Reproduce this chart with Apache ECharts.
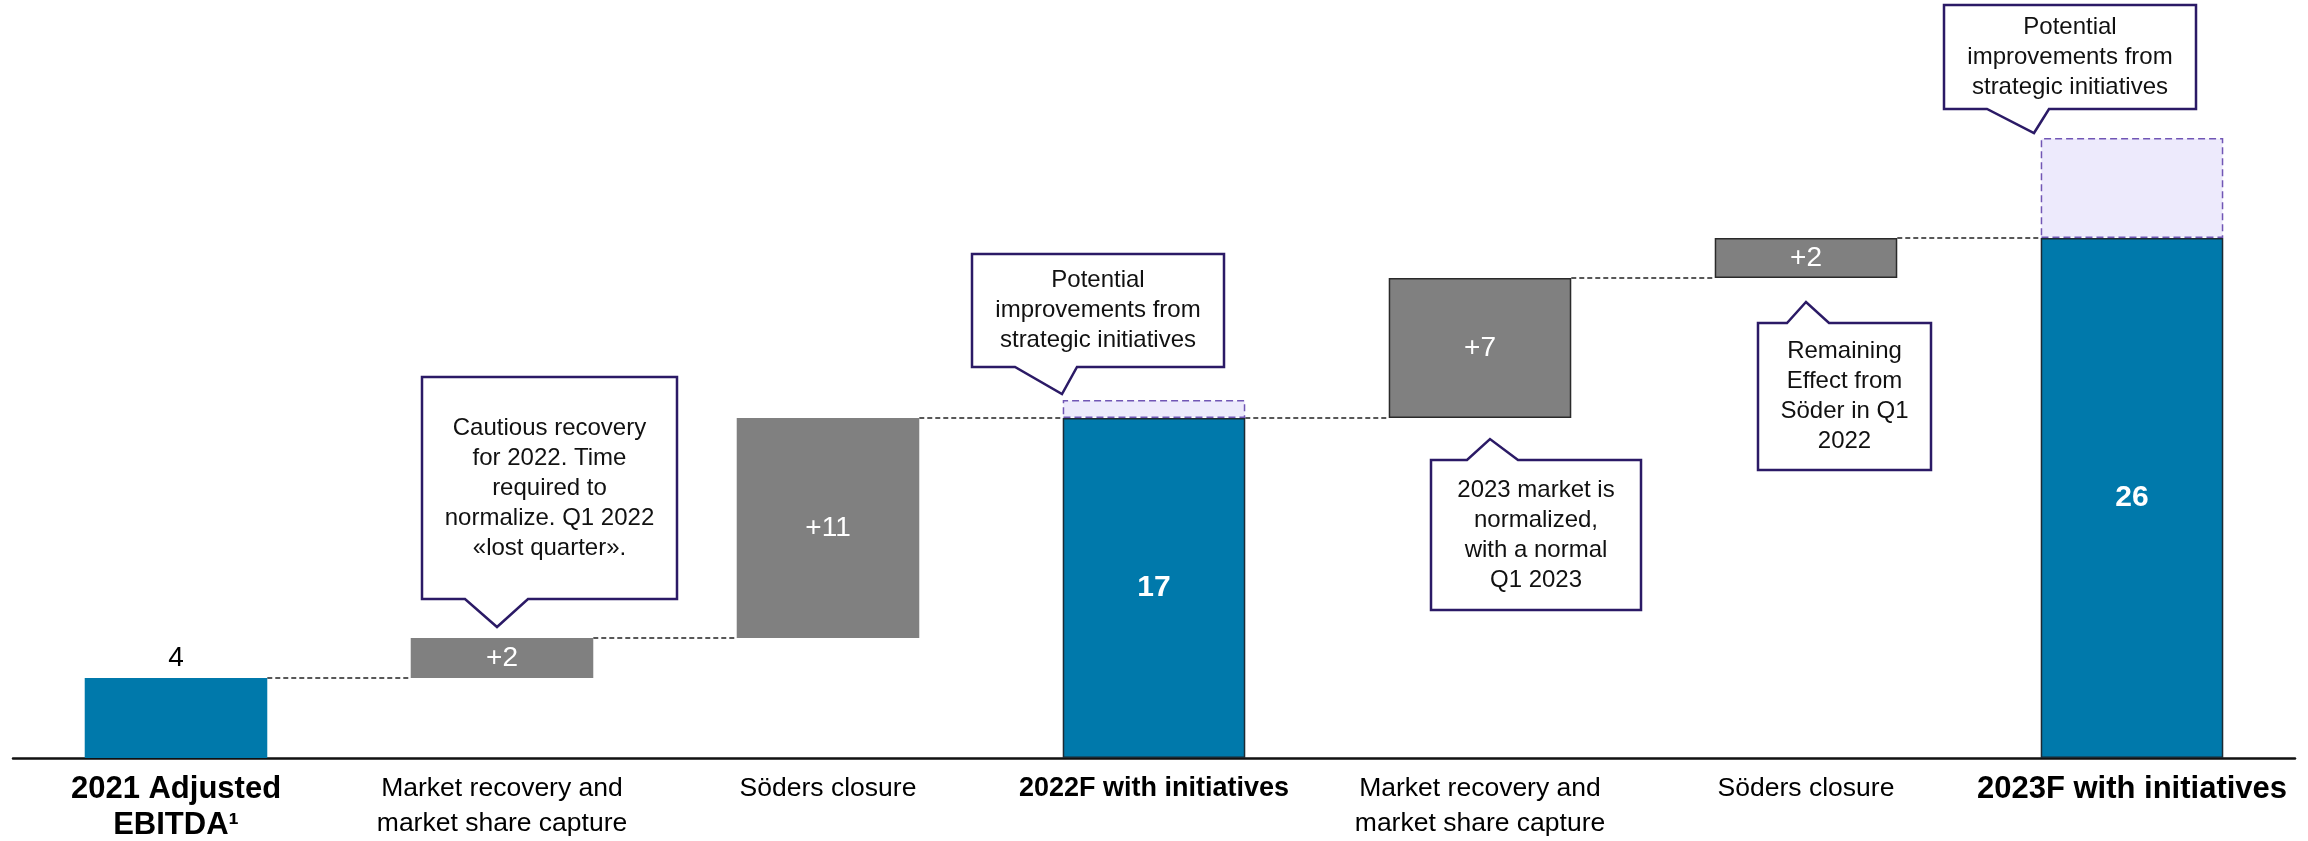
<!DOCTYPE html>
<html>
<head>
<meta charset="utf-8">
<script src="https://cdn.jsdelivr.net/npm/echarts@6/dist/echarts.min.js"></script>
<style>
  html, body { margin: 0; padding: 0; background: #ffffff; }
  #chart { width: 2308px; height: 841px; }
</style>
</head>
<body>
<div id="chart"></div>
<script>
// EBITDA bridge 2021 -> 2022F -> 2023F
const categories = [
  '2021 Adjusted\nEBITDA¹',
  'Market recovery and\nmarket share capture',
  'Söders closure',
  '2022F with initiatives',
  'Market recovery and\nmarket share capture',
  'Söders closure',
  '2023F with initiatives'
];
const totals    = [4, null, null, 17, null, null, 26];
const changes   = [null, 2, 11, null, 7, 2, null];
const potential = [null, null, null, 0.9, null, null, 5];

const calloutTexts = [
  'Cautious recovery\nfor 2022. Time\nrequired to\nnormalize. Q1 2022\n«lost quarter».',
  'Potential\nimprovements from\nstrategic initiatives',
  '2023 market is\nnormalized,\nwith a normal\nQ1 2023',
  'Remaining\nEffect from\nSöder in Q1\n2022',
  'Potential\nimprovements from\nstrategic initiatives'
];

const FONT = '"Liberation Sans", Arial, Helvetica, sans-serif';
const BLUE = '#0079AB';
const GREY = '#808080';
const PURPLE = '#2B1A66';

// running totals: invisible base under each change bar, level after each step
const base = [];
const levels = [];
let running = 0;
categories.forEach((c, i) => {
  if (totals[i] != null) { base.push(0); running = totals[i]; }
  else { base.push(running); running += changes[i]; }
  levels.push(running);
});

const totalData = totals.map((v, i) => {
  if (v == null) return '-';
  if (i === 0) {
    return { value: v, label: { position: 'top', distance: 6, color: '#000', fontSize: 28, fontWeight: 'normal' } };
  }
  return {
    value: v,
    itemStyle: { borderColor: '#1c2a33', borderWidth: 1.5 },
    label: { position: 'inside', color: '#fff', fontSize: 30, fontWeight: 'bold' }
  };
});

const changeData = changes.map((v, i) => {
  if (v == null) return '-';
  const item = { value: v };
  if (i >= 4) item.itemStyle = { borderColor: '#2a2a2a', borderWidth: 1.5 };
  if (i === 1) item.label = { backgroundColor: GREY, padding: [3, 8] };
  return item;
});

const potentialData = potential.map(v => (v == null ? '-' : v));
const connectorData = levels.slice(0, -1).map((lv, i) => [i, lv]);

const chart = echarts.init(document.getElementById('chart'), null, { renderer: 'canvas' });

const labelKey = i => (totals[i] == null ? 'n' : (i === 3 ? 'm' : 'b'));

chart.setOption({
  animation: false,
  backgroundColor: '#ffffff',
  grid: { left: 13, right: 13, top: 58, bottom: 83 },
  xAxis: {
    type: 'category',
    data: categories,
    axisTick: { show: false },
    axisLine: { lineStyle: { color: '#111', width: 2.5 } },
    axisLabel: {
      interval: 0,
      margin: 13,
      formatter: (val, idx) => val.split('\n').map(l => '{' + labelKey(idx) + '|' + l + '}').join('\n'),
      rich: {
        n: { fontFamily: FONT, fontSize: 26.5, lineHeight: 35, color: '#000' },
        b: { fontFamily: FONT, fontSize: 31, fontWeight: 'bold', lineHeight: 36, color: '#000' },
        m: { fontFamily: FONT, fontSize: 27, fontWeight: 'bold', lineHeight: 35, color: '#000' }
      }
    }
  },
  yAxis: { type: 'value', min: 0, max: 35, show: false, splitLine: { show: false } },
  series: [
    {
      name: 'base', type: 'bar', stack: 'w', barWidth: '56%', silent: true,
      itemStyle: { color: 'transparent' }, data: base
    },
    {
      name: 'total', type: 'bar', stack: 'w', barWidth: '56%',
      itemStyle: { color: BLUE },
      label: { show: true, fontFamily: FONT },
      data: totalData
    },
    {
      name: 'change', type: 'bar', stack: 'w', barWidth: '56%',
      itemStyle: { color: GREY },
      label: {
        show: true, position: 'inside', color: '#fff', fontSize: 28, fontFamily: FONT,
        formatter: p => '+' + p.value
      },
      data: changeData
    },
    {
      name: 'potential', type: 'bar', stack: 'w', barWidth: '56%',
      itemStyle: { color: '#EDEAFC', borderColor: '#7156B5', borderWidth: 1.5, borderType: [7, 4] },
      data: potentialData
    },
    {
      name: 'connector', type: 'custom', silent: true, z: 1,
      data: connectorData,
      renderItem: (params, api) => {
        const i = api.value(0);
        const lv = api.value(1);
        const half = api.size([1, 0])[0] * 0.56 / 2;
        const p1 = api.coord([i, lv]);
        const p2 = api.coord([i + 1, lv]);
        return {
          type: 'line',
          shape: { x1: p1[0] + half, y1: p1[1], x2: p2[0] - half, y2: p2[1] },
          style: { stroke: '#222', lineWidth: 1.4, lineDash: [5, 3] }
        };
      }
    }
  ]
});

// callout boxes anchored to the bars they describe
const cx = i => chart.convertToPixel({ xAxisIndex: 0 }, i);
const py = v => chart.convertToPixel({ yAxisIndex: 0 }, v);

function callout(text, anchorX, box, ptr, down) {
  const x1 = anchorX + box[0], x2 = anchorX + box[1];
  const y1 = box[2], y2 = box[3];
  const b1 = anchorX + ptr[0], b2 = anchorX + ptr[1], tx = anchorX + ptr[2], ty = ptr[3];
  const pts = down
    ? [[x1, y1], [x2, y1], [x2, y2], [b2, y2], [tx, ty], [b1, y2], [x1, y2]]
    : [[x1, y1], [b1, y1], [tx, ty], [b2, y1], [x2, y1], [x2, y2], [x1, y2]];
  return [
    {
      type: 'polygon', z: 50,
      shape: { points: pts },
      style: { fill: '#ffffff', stroke: PURPLE, lineWidth: 2.5, lineJoin: 'miter' }
    },
    {
      type: 'text', z: 51,
      x: (x1 + x2) / 2, y: (y1 + y2) / 2,
      style: {
        text: text, fill: '#111', fontFamily: FONT, fontSize: 24, lineHeight: 30,
        align: 'center', verticalAlign: 'middle', textAlign: 'center', textVerticalAlign: 'middle'
      }
    }
  ];
}

const els = [];
// 1: above the first change bar
{
  const tip = py(levels[1]) - 11;
  const bottom = tip - 28;
  els.push(...callout(calloutTexts[0], cx(1), [-80, 175, bottom - 222, bottom], [-37, 26, -5, tip], true));
}
// 2: above the 2022F potential box
{
  const tip = py(totals[3] + potential[3]) - 6;
  const bottom = tip - 27;
  els.push(...callout(calloutTexts[1], cx(3), [-182, 70, bottom - 113, bottom], [-139, -77, -92, tip], true));
}
// 3: below the 2023 market change bar
{
  const tip = py(levels[3]) + 21;
  const top = tip + 21;
  els.push(...callout(calloutTexts[2], cx(4), [-49, 161, top, top + 150], [-13, 38, 10, tip], false));
}
// 4: below the Söder change bar
{
  const tip = py(levels[4]) + 24;
  const top = tip + 21;
  els.push(...callout(calloutTexts[3], cx(5), [-48, 125, top, top + 147], [-19, 23, 0, tip], false));
}
// 5: above the 2023F potential box
{
  const tip = py(totals[6] + potential[6]) - 5;
  const bottom = tip - 24;
  els.push(...callout(calloutTexts[4], cx(6), [-188, 64, bottom - 104, bottom], [-145, -83, -98, tip], true));
}

chart.setOption({ graphic: { elements: els } });
</script>
</body>
</html>
